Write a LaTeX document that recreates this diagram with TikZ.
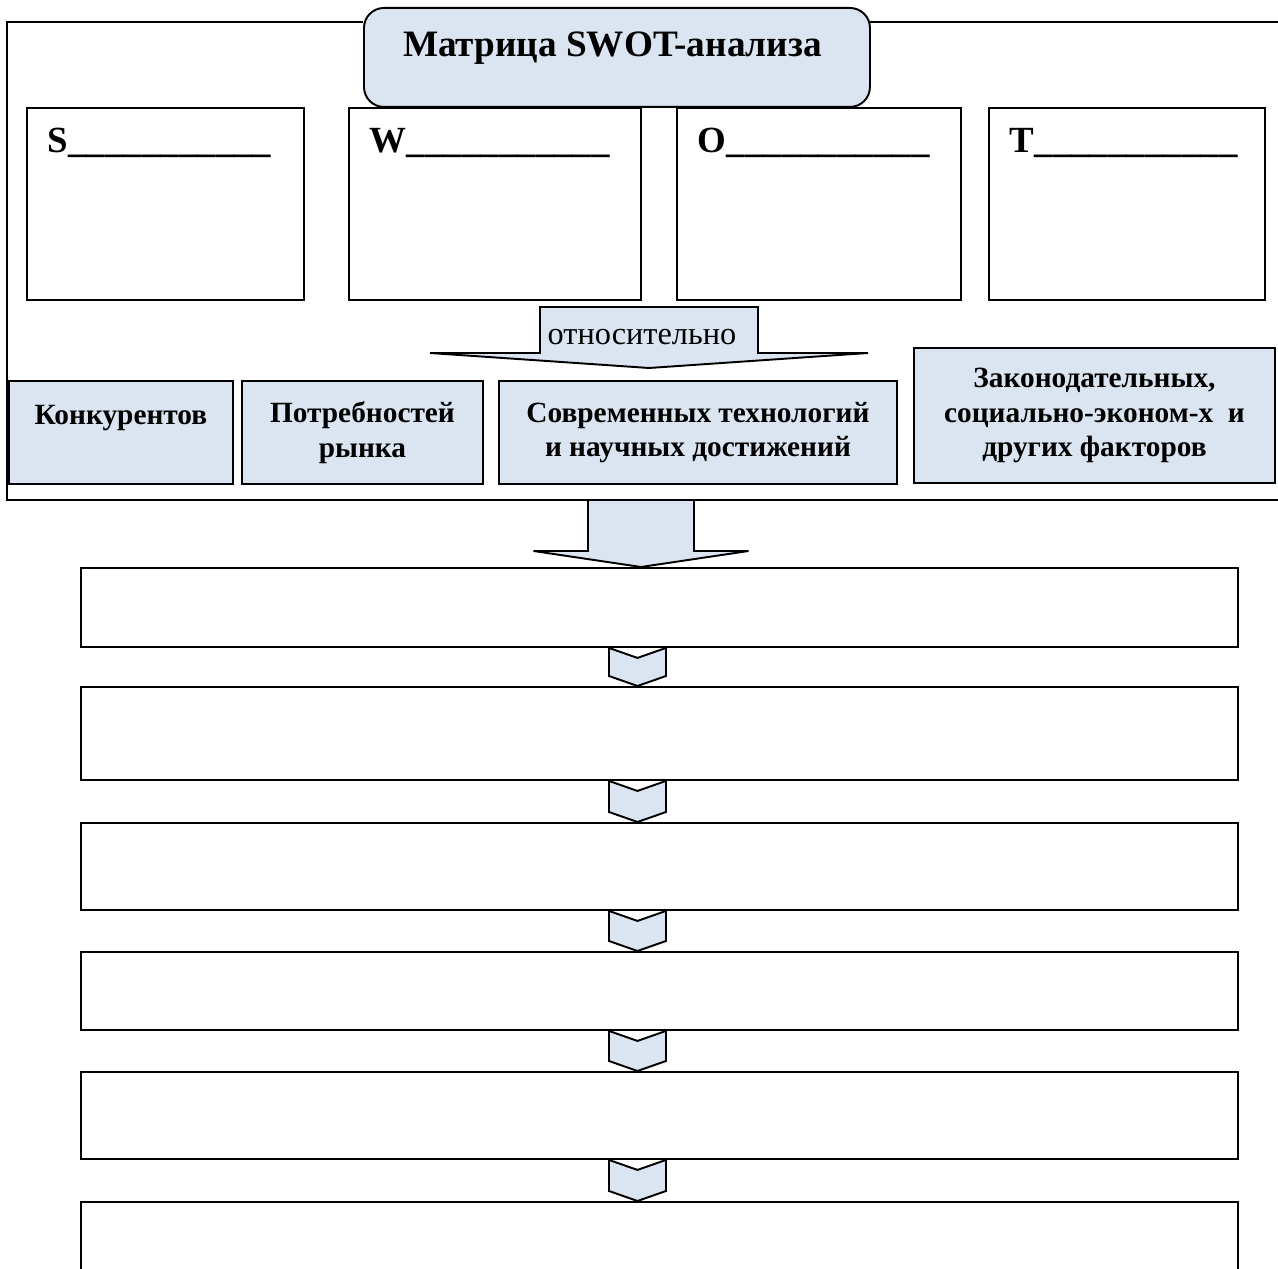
\documentclass[tikz,border=0pt]{standalone}
\usepackage{fontspec}
\setmainfont{Liberation Serif}
\usetikzlibrary{calc}
\definecolor{paleblue}{HTML}{DBE5F1}

\begin{document}
\begin{tikzpicture}[
        line width=1.1pt, line join=miter,
        swotbox/.style={draw, anchor=north west, inner sep=0pt},
        factorbox/.style={draw, fill=paleblue, anchor=north west, align=center,
                          font=\bfseries\fontsize{16.7}{19.8}\selectfont},
        stepbox/.style={draw, anchor=north west, inner sep=0pt, minimum width=23.14cm},
        blockarrow/.style={draw, fill=paleblue},
    ]
    \clip (0cm, 0cm) rectangle (25.56cm, -25.38cm);

    \draw (7.26cm, -0.44cm) -- (0.14cm, -0.44cm) -- (0.14cm, -10.0cm) -- (25.56cm, -10.0cm);
    \draw (17.38cm, -0.44cm) -- (25.56cm, -0.44cm);

    \node[draw, fill=paleblue, rounded corners=0.4cm, anchor=north west, inner sep=0pt,
          minimum width=10.12cm, minimum height=1.98cm] (title) at (7.26cm, -0.14cm) {};
    \node[anchor=base, font=\bfseries\fontsize{21.2}{25}\selectfont] (titletext)
        at (12.25cm, -1.14cm) {Матрица SWOT-анализа};

    \foreach \name/\letter/\x/\w in {s/S/0.52/5.54, w/W/6.96/5.84, o/O/13.52/5.68, t/T/19.76/5.52}
    {
        \node[swotbox, minimum width=\w cm, minimum height=3.84cm] (\name) at (\x cm, -2.14cm) {};
        \node[anchor=base west, inner sep=0pt, font=\bfseries\fontsize{21}{25}\selectfont] (\name-label)
            at ([xshift=0.42cm, yshift=-0.92cm]\name.north west) {\letter\_\_\_\_\_\_\_\_\_\_\_};
    }

    \coordinate (reltop) at (12.98cm, -6.14cm);
    \draw[blockarrow] ([xshift=-2.18cm]reltop) -- ([xshift=2.18cm]reltop)
        -- ([xshift=2.18cm, yshift=-0.92cm]reltop) -- ([xshift=4.38cm, yshift=-0.92cm]reltop)
        -- ([yshift=-1.22cm]reltop) -- ([xshift=-4.38cm, yshift=-0.92cm]reltop)
        -- ([xshift=-2.18cm, yshift=-0.92cm]reltop) -- cycle;
    \node[anchor=base, font=\fontsize{18.4}{22}\selectfont] (reltext) at (12.84cm, -6.90cm) {относительно};

    \node[factorbox, minimum width=4.48cm, minimum height=2.06cm] (rivals) at (0.16cm, -7.60cm)
        {Конкурентов\\~};
    \node[factorbox, minimum width=4.82cm, minimum height=2.06cm] (market) at (4.82cm, -7.60cm)
        {Потребностей\\рынка};
    \node[factorbox, minimum width=7.96cm, minimum height=2.06cm] (science) at (9.96cm, -7.60cm)
        {Современных технологий\\и научных достижений};
    \node[factorbox, minimum width=7.22cm, minimum height=2.70cm] (laws) at (18.26cm, -6.94cm)
        {Законодательных,\\социально-эконом-х\ \ и\\других факторов};

    \foreach \i/\top/\h in {1/-11.34/1.58, 2/-13.72/1.86, 3/-16.44/1.74, 4/-19.02/1.56, 5/-21.42/1.74, 6/-24.02/3.0}
        \node[stepbox, minimum height=\h cm] (step\i) at (1.6cm, \top cm) {};

    \coordinate (framebot) at (12.82cm, -10.0cm);
    \draw[blockarrow] ([xshift=-1.06cm]framebot) -- ([xshift=1.06cm]framebot)
        -- ($(framebot |- step1.north) + (1.06cm, 0.32cm)$)
        -- ($(framebot |- step1.north) + (2.15cm, 0.32cm)$)
        -- (framebot |- step1.north)
        -- ($(framebot |- step1.north) + (-2.15cm, 0.32cm)$)
        -- ($(framebot |- step1.north) + (-1.06cm, 0.32cm)$) -- cycle;

    \foreach \a/\b in {step1/step2, step2/step3, step3/step4, step4/step5, step5/step6}
        \draw[blockarrow] ([xshift=-1.01cm]\a.south) -- ([xshift=-0.44cm, yshift=-0.2cm]\a.south)
            -- ([xshift=0.13cm]\a.south) -- ([xshift=0.13cm, yshift=0.2cm]\b.north)
            -- ([xshift=-0.44cm]\b.north) -- ([xshift=-1.01cm, yshift=0.2cm]\b.north) -- cycle;

\end{tikzpicture}
\end{document}
